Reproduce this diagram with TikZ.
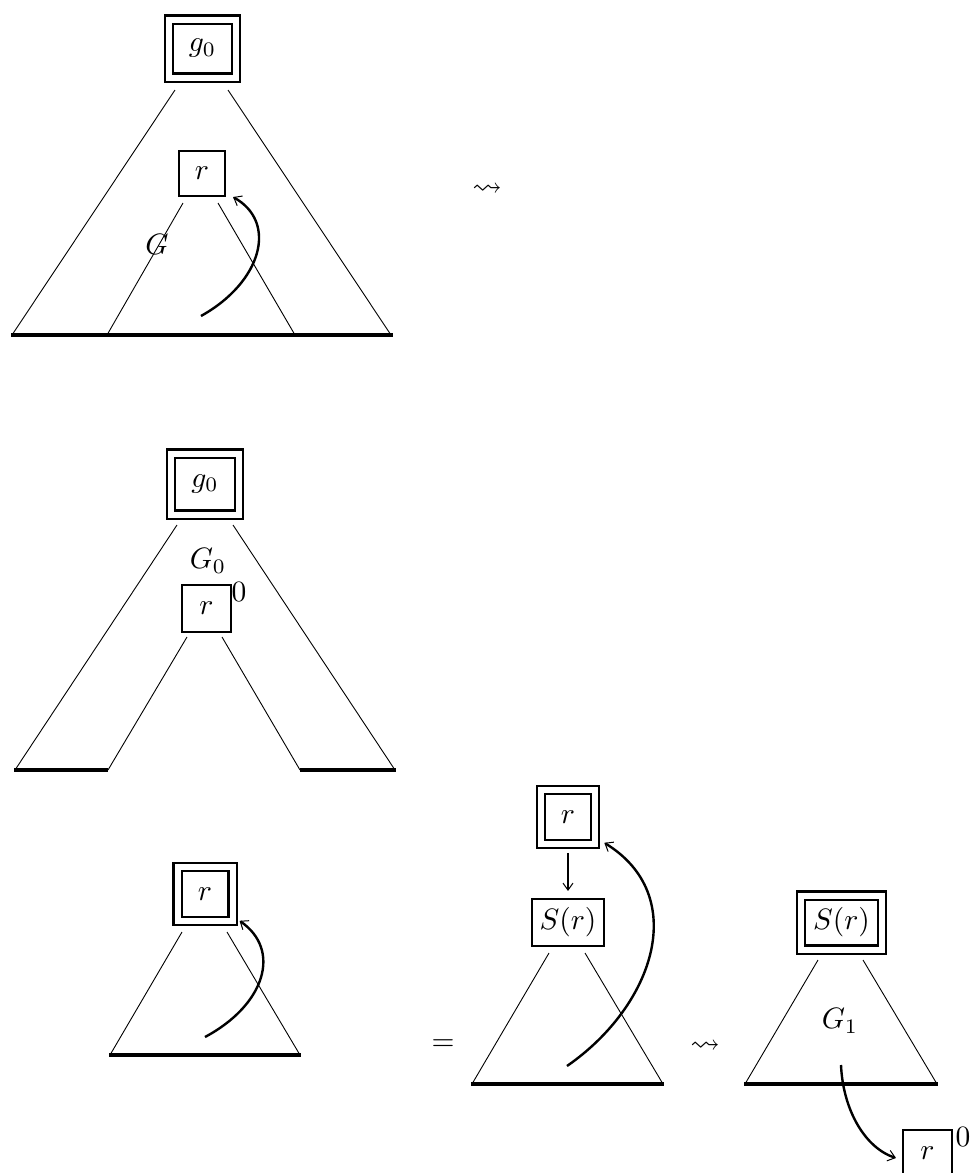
\documentclass[tikz,border=0pt]{standalone}
\usepackage{amssymb}
\usetikzlibrary{arrows.meta}
\newcommand{\bt}[1]{\scalebox{2.95}{#1}}
\begin{document}
\begin{tikzpicture}[x=1pt,y=-1pt,
  box/.style={draw, line width=2.1pt, inner sep=0pt},
  dbox/.style={box, double, double distance=6pt},
  side/.style={line width=0.9pt},
  base/.style={line width=3.2pt},
  curve/.style={line width=2.4pt, -{Straight Barb[length=7pt,width=11pt,line width=1pt]}},
  lbl/.style={inner sep=0pt}]
\useasboundingbox (0,0) rectangle (971,1173);

% ---------- diagram 1 ----------
\node[dbox, minimum width=67pt, minimum height=58pt] (g0a) at (202.5,48.5) {\bt{$g_0$}};
\node[box, minimum width=46pt, minimum height=45pt] (ra) at (202,173.5) {\bt{$r$}};
\draw[side] (175,90) -- (12,335);
\draw[side] (228,90) -- (391,335);
\draw[side] (183,203) -- (107,335);
\draw[side] (218,203) -- (295,335);
\draw[base] (11,335) -- (393,335);
\node[lbl] (Ga) at (157,244) {\bt{$G$}};
\coordinate (ca) at (201,316);
\draw[curve] (ca) .. controls (262,282) and (278,222) .. ([shift={(7,0)}]ra.south east);
\node[lbl] (lt1) at (487,190) {\bt{$\leadsto$}};

% ---------- diagram 2 ----------
\node[dbox, minimum width=68pt, minimum height=61pt] (g0b) at (205,484) {\bt{$g_0$}};
\node[lbl] (G0b) at (208,561) {\bt{$G_0$}};
\node[box, minimum width=49pt, minimum height=47pt] (rb) at (206.5,608.5) {\bt{$r$}};
\node[lbl] (zb) at (239,592) {\bt{0}};
\draw[side] (177,525) -- (15,770);
\draw[side] (233,525) -- (395,770);
\draw[side] (187,637) -- (108,770);
\draw[side] (222,637) -- (300,770);
\draw[base] (14,770) -- (108,770);
\draw[base] (300,770) -- (396,770);

% ---------- diagram 3 ----------
\node[dbox, minimum width=55pt, minimum height=53.5pt] (rc) at (205,894) {\bt{$r$}};
\draw[side] (182,932) -- (110,1055);
\draw[side] (227,932) -- (300,1055);
\draw[base] (109,1055) -- (301,1055);
\coordinate (cc) at (205,1037);
\draw[curve] (cc) .. controls (265,1005) and (282,950) .. ([shift={(6,-1)}]rc.south east);
\node[lbl] (eq) at (443,1045) {\bt{$=$}};

% ---------- diagram 4 ----------
\node[dbox, minimum width=54.5pt, minimum height=53.5pt] (rd) at (568,817) {\bt{$r$}};
\node[box, minimum width=72pt, minimum height=47pt] (Sd) at (568,922.5) {\bt{$S(r)$}};
\draw[line width=1.8pt, -{Straight Barb[length=7pt,width=10pt,line width=1pt]}] ([yshift=-8]rd.south) -- ([yshift=7]Sd.north);
\draw[side] (549,953) -- (472,1084);
\draw[side] (585,953) -- (663,1084);
\draw[base] (471,1084) -- (664,1084);
\coordinate (cd) at (567,1066);
\draw[curve] (cd) .. controls (655,1005) and (690,895) .. ([shift={(8,-2)}]rd.south east);
\node[lbl] (lt2) at (705,1047) {\bt{$\leadsto$}};

% ---------- diagram 5 ----------
\node[dbox, minimum width=81.5pt, minimum height=54pt] (Se) at (841.5,922.5) {\bt{$S(r)$}};
\node[lbl] (G1e) at (840,1021) {\bt{$G_1$}};
\draw[side] (818,960) -- (745,1084);
\draw[side] (863,960) -- (937,1084);
\draw[base] (744,1084) -- (938,1084);
\node[box, minimum width=49pt, minimum height=46pt] (re) at (927.5,1153) {\bt{$r$}};
\node[lbl] (ze) at (963,1137) {\bt{0}};
\coordinate (ce) at (841,1065);
\draw[curve] (ce) .. controls (843,1110) and (865,1148) .. ([shift={(-6,5)}]re.west);
\end{tikzpicture}
\end{document}
